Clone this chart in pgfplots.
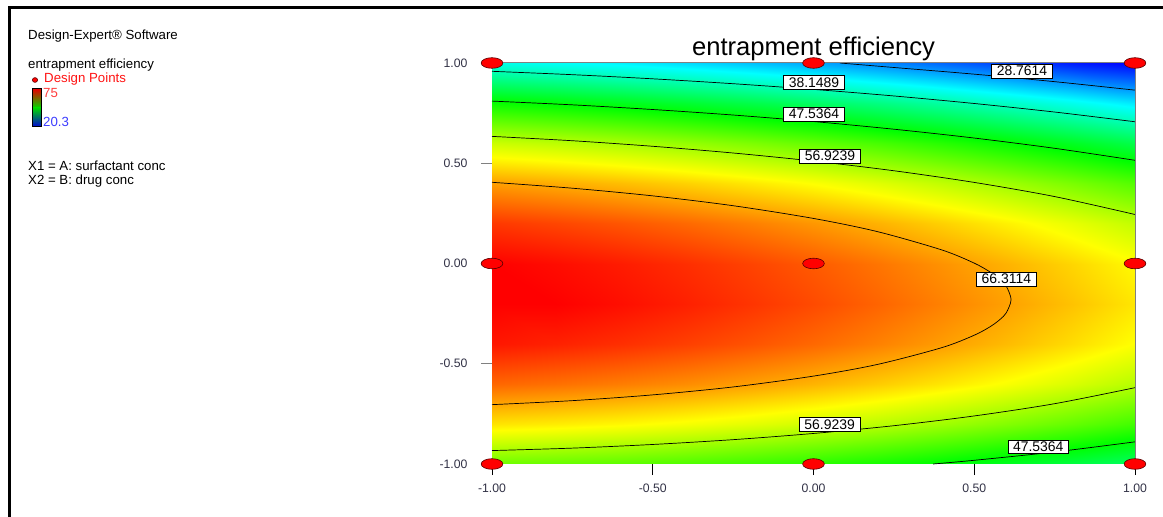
\documentclass[border=0pt]{standalone}
\usepackage{pgfplots}
\pgfplotsset{compat=1.18}
\usepackage{pgfplotstable}
\usepackage{fontspec}
\setmainfont{Liberation Sans}

\definecolor{labelcol}{RGB}{50,50,70}
\definecolor{dpred}{RGB}{255,20,20}
\definecolor{hired}{RGB}{255,60,60}
\definecolor{loblue}{RGB}{60,60,255}

% response surface (entrapment efficiency) on a grid
\pgfplotstableread{
x y c
-1 -1 53.58
-0.8 -1 53.14
-0.6 -1 52.55
-0.4 -1 51.82
-0.2 -1 50.92
0 -1 49.88
0.2 -1 48.69
0.4 -1 47.34
0.6 -1 45.86
0.8 -1 44.22
1 -1 42.42
-1 -0.8 62.77
-0.8 -0.8 62.28
-0.6 -0.8 61.65
-0.4 -0.8 60.86
-0.2 -0.8 59.92
0 -0.8 58.83
0.2 -0.8 57.60
0.4 -0.8 56.21
0.6 -0.8 54.67
0.8 -0.8 52.99
1 -0.8 51.14
-1 -0.6 69.50
-0.8 -0.6 68.97
-0.6 -0.6 68.29
-0.4 -0.6 67.46
-0.2 -0.6 66.47
0 -0.6 65.34
0.2 -0.6 64.06
0.4 -0.6 62.62
0.6 -0.6 61.04
0.8 -0.6 59.31
1 -0.6 57.42
-1 -0.4 73.79
-0.8 -0.4 73.22
-0.6 -0.4 72.49
-0.4 -0.4 71.61
-0.2 -0.4 70.58
0 -0.4 69.40
0.2 -0.4 68.07
0.4 -0.4 66.58
0.6 -0.4 64.96
0.8 -0.4 63.18
1 -0.4 61.24
-1 -0.2 75.64
-0.8 -0.2 75.01
-0.6 -0.2 74.24
-0.4 -0.2 73.32
-0.2 -0.2 72.23
0 -0.2 71.01
0.2 -0.2 69.63
0.4 -0.2 68.10
0.6 -0.2 66.43
0.8 -0.2 64.60
1 -0.2 62.62
-1 0 75.03
-0.8 0 74.36
-0.6 0 73.54
-0.4 0 72.57
-0.2 0 71.44
0 0 70.17
0.2 0 68.75
0.4 0 67.17
0.6 0 65.45
0.8 0 63.58
1 0 61.55
-1 0.2 71.98
-0.8 0.2 71.26
-0.6 0.2 70.39
-0.4 0.2 69.38
-0.2 0.2 68.20
0 0.2 66.88
0.2 0.2 65.42
0.4 0.2 63.79
0.6 0.2 62.03
0.8 0.2 60.11
1 0.2 58.03
-1 0.4 66.47
-0.8 0.4 65.71
-0.6 0.4 64.80
-0.4 0.4 63.74
-0.2 0.4 62.51
0 0.4 61.15
0.2 0.4 59.64
0.4 0.4 57.96
0.6 0.4 56.15
0.8 0.4 54.19
1 0.4 52.07
-1 0.6 58.52
-0.8 0.6 57.72
-0.6 0.6 56.76
-0.4 0.6 55.65
-0.2 0.6 54.38
0 0.6 52.97
0.2 0.6 51.41
0.4 0.6 49.69
0.6 0.6 47.83
0.8 0.6 45.82
1 0.6 43.65
-1 0.8 48.13
-0.8 0.8 47.27
-0.6 0.8 46.27
-0.4 0.8 45.11
-0.2 0.8 43.79
0 0.8 42.34
0.2 0.8 40.73
0.4 0.8 38.97
0.6 0.8 37.06
0.8 0.8 35.01
1 0.8 32.79
-1 1 35.28
-0.8 1 34.38
-0.6 1 33.33
-0.4 1 32.12
-0.2 1 30.76
0 1 29.26
0.2 1 27.61
0.4 1 25.80
0.6 1 23.84
0.8 1 21.74
1 1 19.48
}\surfdata

\begin{document}
\begin{tikzpicture}
\useasboundingbox (0,0) rectangle (1163bp,517bp);
\fill[white] (0,0) rectangle (1163bp,517bp);
% outer frame
\draw[black, line width=2.8bp] (9.7bp,0) -- (9.7bp,509.5bp) -- (1163bp,509.5bp);

% left-hand information panel
\begin{scope}[every node/.style={anchor=west, inner sep=0pt, font=\fontsize{13.3}{15}\selectfont}]
\node at (28bp,481bp) {Design-Expert® Software};
\node at (28bp,452bp) {entrapment efficiency};
\node[text=dpred] at (44bp,438bp) {Design Points};
\node[text=hired] at (43bp,424bp) {75};
\node[text=loblue] at (43bp,395bp) {20.3};
\node at (28bp,351bp) {X1 = A: surfactant conc};
\node at (28bp,336bp) {X2 = B: drug conc};
\end{scope}
\filldraw[fill=red, draw=red!35!black, line width=0.6bp] (35bp,437bp) ellipse (2.6bp and 2.4bp);
\shade[top color=red!90!black, bottom color=green!85!black] (32bp,409bp) rectangle (41bp,428bp);
\shade[top color=green!85!black, bottom color=blue!85!black] (32bp,390bp) rectangle (41bp,409.2bp);
\draw[black, line width=1bp] (32bp,390bp) rectangle (41bp,428bp);

\begin{axis}[
  at={(492bp,53bp)}, anchor=south west,
  width=643bp, height=401bp, scale only axis,
  xmin=-1, xmax=1, ymin=-1, ymax=1,
  axis x line*=bottom, axis y line*=left,
  axis line style={black, line width=1bp},
  xtick={-1,-0.5,0,0.5,1}, xticklabels={-1.00,-0.50,0.00,0.50,1.00},
  ytick={-1,-0.5,0,0.5,1}, yticklabels={-1.00,-0.50,0.00,0.50,1.00},
  tick align=outside, major tick length=11bp,
  xtick style={black, line width=1bp},
  ytick style={gray, line width=1.2bp},
  ticklabel style={font=\fontsize{12.3}{14}\selectfont, text=labelcol},
  xticklabel style={yshift=-5bp},
  yticklabel style={xshift=-10bp},
  title={entrapment efficiency},
  title style={font=\fontsize{25.7}{30}\selectfont, yshift=-7.5bp},
  colormap={de}{rgb255=(0,0,255) rgb255=(0,255,255) rgb255=(0,255,0) rgb255=(255,255,0) rgb255=(255,0,0)},
  point meta min=20.3, point meta max=75,
  clip=false,
]
\addplot[surf, shader=interp, mesh/cols=11, mesh/rows=11, point meta=explicit]
  table[x=x, y=y, meta=c] {\surfdata};

% contour lines
\addplot[black, line width=0.7bp, smooth] coordinates {
 (0.082,1) (0.25,0.9776) (0.5,0.9443) (0.75,0.9069) (1,0.8646)};
\addplot[black, line width=0.7bp, smooth] coordinates {
 (-1,0.9585) (-0.75,0.9417) (-0.5,0.9211) (-0.25,0.8967) (0,0.8683) (0.25,0.8356) (0.5,0.798) (0.75,0.7554) (1,0.7069)};
\addplot[black, line width=0.7bp, smooth] coordinates {
 (-1,0.810) (-0.75,0.7913) (-0.5,0.768) (-0.25,0.7405) (0,0.708) (0.25,0.6698) (0.5,0.6257) (0.75,0.5745) (1,0.5147)};
\addplot[black, line width=0.7bp, smooth] coordinates {
 (-1,0.634) (-0.75,0.6123) (-0.5,0.5846) (-0.25,0.5511) (0,0.5108) (0.25,0.4626) (0.5,0.4044) (0.75,0.3338) (1,0.2444)};
\addplot[black, line width=0.7bp, smooth] coordinates {
 (-1,0.405) (-0.75,0.3755) (-0.5,0.3373) (-0.25,0.2882) (0,0.2247) (0.2,0.1585) (0.4,0.0671) (0.5,0.0018) (0.55,-0.0432) (0.58,-0.0797) (0.6,-0.1148) (0.6145,-0.18) (0.6,-0.2449) (0.58,-0.2792) (0.55,-0.3145) (0.5,-0.3577) (0.4,-0.4192) (0.2,-0.503) (0,-0.5616) (-0.25,-0.6157) (-0.5,-0.6552) (-0.75,-0.684) (-1,-0.704)};
\addplot[black, line width=0.7bp, smooth] coordinates {
 (-1,-0.933) (-0.75,-0.9208) (-0.5,-0.9026) (-0.25,-0.8786) (0,-0.8477) (0.25,-0.809) (0.5,-0.7603) (0.75,-0.6992) (1,-0.6193)};
\addplot[black, line width=0.7bp, smooth] coordinates {
 (0.372,-1) (0.5,-0.9815) (0.75,-0.940) (1,-0.8895)};

% top and right border
\draw[gray, line width=1bp] (rel axis cs:0,1) -- (rel axis cs:1,1) -- (rel axis cs:1,0);

% contour labels
\begin{scope}[every node/.style={draw=black, fill=white, line width=0.6bp, inner xsep=5.2bp, inner ysep=2bp, font=\fontsize{14}{15}\selectfont}]
\node at (axis cs:0.6485,0.960) {28.7614};
\node at (axis cs:0.0016,0.902) {38.1489};
\node at (axis cs:0.0016,0.745) {47.5364};
\node at (axis cs:0.0513,0.536) {56.9239};
\node at (axis cs:0.600,-0.0773) {66.3114};
\node at (axis cs:0.050,-0.8015) {56.9239};
\node at (axis cs:0.699,-0.914) {47.5364};
\end{scope}

% design points
\addplot[only marks, mark=*, mark size=5.3bp,
  mark options={xscale=2.05, fill=red, draw=red!35!black, line width=0.6bp}]
  coordinates {(-1,-1) (0,-1) (1,-1) (-1,0) (0,0) (1,0) (-1,1) (0,1) (1,1)};
\end{axis}
\end{tikzpicture}
\end{document}
